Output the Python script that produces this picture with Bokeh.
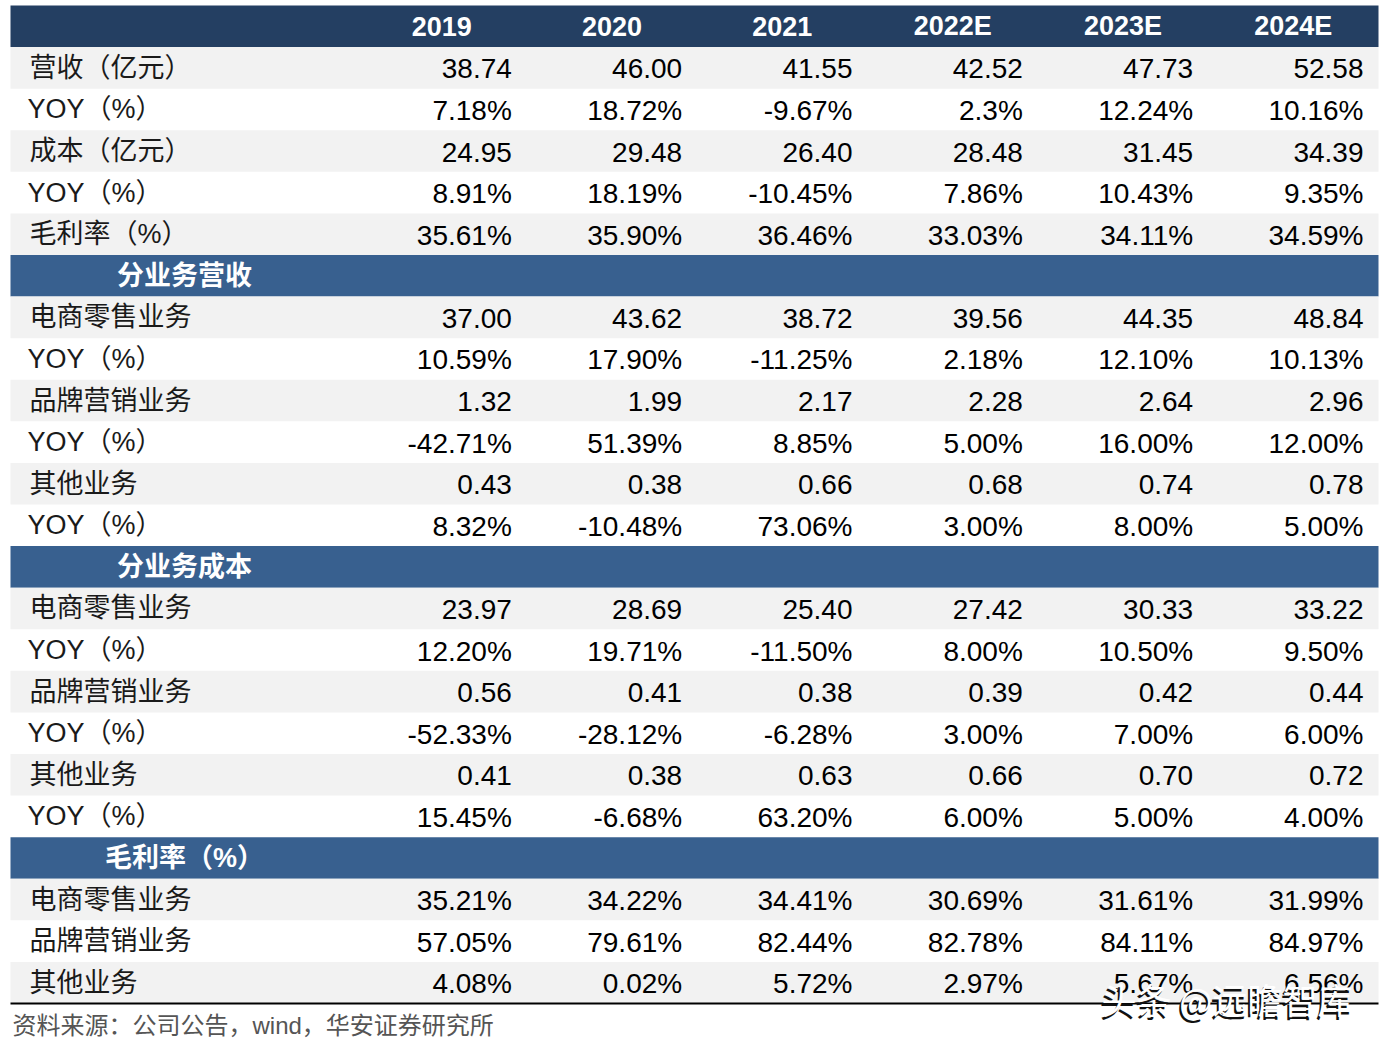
from bokeh.plotting import figure
from bokeh.models import Range1d, ColumnDataSource
from bokeh.core.properties import value
from bokeh.embed import file_html
from bokeh.resources import INLINE

# ---------------- data ----------------
years = ["2019", "2020", "2021", "2022E", "2023E", "2024E"]

top_labels = ["营收（亿元）", "YOY（%）", "成本（亿元）", "YOY（%）", "毛利率（%）"]
revenue = ["38.74", "46.00", "41.55", "42.52", "47.73", "52.58"]
revenue_yoy = ["7.18%", "18.72%", "-9.67%", "2.3%", "12.24%", "10.16%"]
cost = ["24.95", "29.48", "26.40", "28.48", "31.45", "34.39"]
cost_yoy = ["8.91%", "18.19%", "-10.45%", "7.86%", "10.43%", "9.35%"]
gross_margin = ["35.61%", "35.90%", "36.46%", "33.03%", "34.11%", "34.59%"]

seg_labels = ["电商零售业务", "YOY（%）", "品牌营销业务", "YOY（%）", "其他业务", "YOY（%）"]
ecom_rev = ["37.00", "43.62", "38.72", "39.56", "44.35", "48.84"]
ecom_rev_yoy = ["10.59%", "17.90%", "-11.25%", "2.18%", "12.10%", "10.13%"]
brand_rev = ["1.32", "1.99", "2.17", "2.28", "2.64", "2.96"]
brand_rev_yoy = ["-42.71%", "51.39%", "8.85%", "5.00%", "16.00%", "12.00%"]
other_rev = ["0.43", "0.38", "0.66", "0.68", "0.74", "0.78"]
other_rev_yoy = ["8.32%", "-10.48%", "73.06%", "3.00%", "8.00%", "5.00%"]

ecom_cost = ["23.97", "28.69", "25.40", "27.42", "30.33", "33.22"]
ecom_cost_yoy = ["12.20%", "19.71%", "-11.50%", "8.00%", "10.50%", "9.50%"]
brand_cost = ["0.56", "0.41", "0.38", "0.39", "0.42", "0.44"]
brand_cost_yoy = ["-52.33%", "-28.12%", "-6.28%", "3.00%", "7.00%", "6.00%"]
other_cost = ["0.41", "0.38", "0.63", "0.66", "0.70", "0.72"]
other_cost_yoy = ["15.45%", "-6.68%", "63.20%", "6.00%", "5.00%", "4.00%"]

gm_labels = ["电商零售业务", "品牌营销业务", "其他业务"]
ecom_gm = ["35.21%", "34.22%", "34.41%", "30.69%", "31.61%", "31.99%"]
brand_gm = ["57.05%", "79.61%", "82.44%", "82.78%", "84.11%", "84.97%"]
other_gm = ["4.08%", "0.02%", "5.72%", "2.97%", "5.67%", "6.56%"]

sections = [
    (None, top_labels, [revenue, revenue_yoy, cost, cost_yoy, gross_margin]),
    ("分业务营收", seg_labels, [ecom_rev, ecom_rev_yoy, brand_rev, brand_rev_yoy, other_rev, other_rev_yoy]),
    ("分业务成本", seg_labels, [ecom_cost, ecom_cost_yoy, brand_cost, brand_cost_yoy, other_cost, other_cost_yoy]),
    ("毛利率（%）", gm_labels, [ecom_gm, brand_gm, other_gm]),
]
source_note = "资料来源：公司公告，wind，华安证券研究所"
watermark = "头条 @远瞻智库"

# ---------------- layout ----------------
W, H = 1384, 1046
X0, X1 = 10, 1378
LABEL_W = 346
TOP = 5
n_rows = 1 + sum((1 if t else 0) + len(r) for t, _, r in sections)
ROW_H = 998 / n_rows
COL_W = (X1 - X0 - LABEL_W) / len(years)
PAD_R = 15

HEADER_C = "#243F62"
SECTION_C = "#38608F"
GRAY_C = "#F2F2F2"

NUM_FONT = value("'Liberation Sans', Arial, sans-serif")
CJK_FONT = value("'Liberation Sans', 'Noto Sans CJK SC', sans-serif")

p = figure(width=W, height=H, output_backend="svg", toolbar_location=None,
           x_range=Range1d(0, W), y_range=Range1d(H, 0), min_border=0)
p.axis.visible = False
p.grid.visible = False
p.outline_line_color = None
p.background_fill_color = "white"
p.border_fill_color = "white"

bg = dict(left=[], right=[], top=[], bottom=[], color=[])
labels = dict(x=[], y=[], text=[])
sec_titles = dict(x=[], y=[], text=[])
nums = dict(x=[], y=[], text=[])
head = dict(x=[], y=[], text=[])

def add_bg(i, color):
    bg["left"].append(X0); bg["right"].append(X1)
    bg["top"].append(TOP + i * ROW_H); bg["bottom"].append(TOP + (i + 1) * ROW_H)
    bg["color"].append(color)

row = 0
add_bg(row, HEADER_C)
for j, yr in enumerate(years):
    head["x"].append(X0 + LABEL_W + (j + 0.5) * COL_W)
    head["y"].append(TOP + (row + 0.5) * ROW_H)
    head["text"].append(yr)
row += 1

for title, labs, rows in sections:
    if title:
        add_bg(row, SECTION_C)
        sec_titles["x"].append(X0 + LABEL_W / 2 + 1)
        sec_titles["y"].append(TOP + (row + 0.5) * ROW_H)
        sec_titles["text"].append(title)
        row += 1
    for k, (lab, vals) in enumerate(zip(labs, rows)):
        if k % 2 == 0:
            add_bg(row, GRAY_C)
        yc = TOP + (row + 0.5) * ROW_H
        labels["x"].append(X0 + 17 if lab.startswith("YOY") else X0 + 19)
        labels["y"].append(yc)
        labels["text"].append(lab)
        for j, v in enumerate(vals):
            nums["x"].append(X0 + LABEL_W + (j + 1) * COL_W - PAD_R)
            nums["y"].append(yc + 1)
            nums["text"].append(v)
        row += 1

p.quad(source=ColumnDataSource(bg), left="left", right="right", top="top", bottom="bottom",
       fill_color="color", line_color=None)

p.text(source=ColumnDataSource(head), x="x", y="y", text="text", text_font=NUM_FONT,
       text_font_size="27px", text_font_style="bold", text_color="white",
       text_align="center", text_baseline="middle")
p.text(source=ColumnDataSource(sec_titles), x="x", y="y", text="text", text_font=CJK_FONT,
       text_font_size="27px", text_font_style="bold", text_color="white",
       text_align="center", text_baseline="middle")
p.text(source=ColumnDataSource(labels), x="x", y="y", text="text", text_font=CJK_FONT,
       text_font_size="27px", text_color="#1a1a1a", text_align="left", text_baseline="middle")
p.text(source=ColumnDataSource(nums), x="x", y="y", text="text", text_font=NUM_FONT,
       text_font_size="28px", text_color="black", text_align="right", text_baseline="middle")

# bottom rule
y_end = TOP + n_rows * ROW_H
p.segment(x0=[X0], x1=[X1], y0=[y_end], y1=[y_end], line_color="black", line_width=2.2)

# source note
p.text(x=[12], y=[y_end + 22], text=[source_note], text_font=CJK_FONT, text_font_size="24px",
       text_color="#555555", text_align="left", text_baseline="middle")

# watermark
p.text(x=[1099], y=[1001], text=[watermark], text_font=value("'Noto Sans CJK SC'"),
       text_font_size="35px", text_color="#111111", text_align="left", text_baseline="middle")
p.text(x=[1101], y=[998], text=[watermark], text_font=value("'Noto Sans CJK SC'"),
       text_font_size="35px", text_color="white", text_align="left", text_baseline="middle")

open("out.html", "w").write(file_html(p, INLINE))
